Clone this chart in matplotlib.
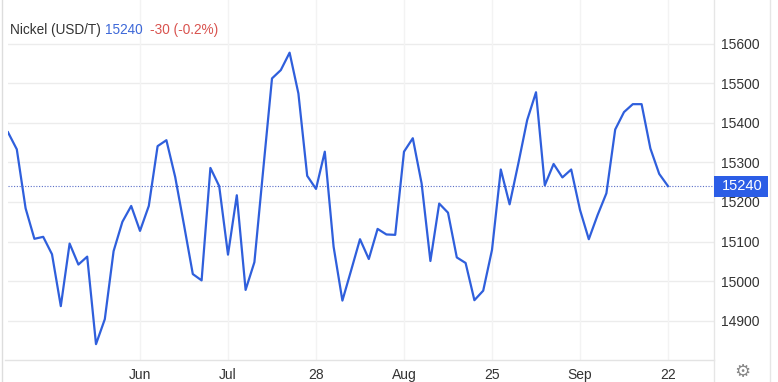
import matplotlib
matplotlib.use("Agg")
import matplotlib.pyplot as plt
from matplotlib.lines import Line2D
from matplotlib.patches import Rectangle

plt.rcParams['font.family'] = ['Liberation Sans', 'DejaVu Sans']

# ---- data ----
prices = [15376, 15333, 15184, 15107, 15112, 15068, 14937, 15095, 15042, 15062,
          14841, 14904, 15076, 15150, 15190, 15127, 15190, 15341, 15356, 15263,
          15142, 15018, 15002, 15286, 15240, 15067, 15217, 14978, 15048, 15281,
          15512, 15533, 15577, 15474, 15266, 15233, 15327, 15087, 14951, 15028,
          15106, 15056, 15132, 15118, 15117, 15327, 15361, 15247, 15051, 15196,
          15173, 15060, 15046, 14952, 14976, 15079, 15282, 15194, 15298, 15407,
          15477, 15242, 15296, 15262, 15282, 15180, 15106, 15167, 15222, 15383,
          15427, 15447, 15447, 15335, 15271, 15240]
x_tick_pos = [15, 25, 35, 45, 55, 65, 75]
x_tick_labels = ["Jun", "Jul", "28", "Aug", "25", "Sep", "22"]
y_ticks = [14900, 15000, 15100, 15200, 15300, 15400, 15500, 15600]
last_price = 15240
title_name = "Nickel (USD/T)"
title_price = "15240"
title_change = "-30 (-0.2%)"

W, H = 778, 382
fig = plt.figure(figsize=(W / 100, H / 100), dpi=100)
fig.patch.set_facecolor("white")

# axes: x from 8px to 714px, y from 0 to 360px (from top)
ax = fig.add_axes([8 / W, (H - 360) / H, (714 - 8) / W, 360 / H])
ax.set_facecolor("white")
ax.set_xlim(0, (714 - 8) / 8.8)
ax.set_ylim(14801, 15710)

for s in ax.spines.values():
    s.set_visible(False)

for yv in y_ticks:
    ax.axhline(yv, color="#ececec", lw=1.0, zorder=0)
for xv in x_tick_pos:
    ax.axvline(xv, color="#f3f3f3", lw=1.0, zorder=0)

ax.plot(range(len(prices)), prices, color="#2f5fdc", lw=1.6, zorder=3,
        solid_joinstyle="round")
ax.axhline(last_price, color="#5b6fc8", lw=0.8, ls=(0, (1, 1.5)), zorder=2)

ax.set_xticks(x_tick_pos)
ax.set_xticklabels(x_tick_labels)
ax.tick_params(axis="x", length=0, pad=6, labelsize=10, labelcolor="#333333")
ax.yaxis.tick_right()
ax.set_yticks(y_ticks)
ax.set_yticklabels([str(v) for v in y_ticks])
ax.tick_params(axis="y", length=0, pad=5, labelsize=10, labelcolor="#333333")

# bottom axis line and separators
fig.add_artist(Line2D([5 / W, 714 / W], [(H - 360) / H] * 2, color="#e3e3e3", lw=1.0))
fig.add_artist(Line2D([714 / W, 714 / W], [0, 1], color="#e6e6e6", lw=1.0))
fig.add_artist(Line2D([770 / W, 770 / W], [0, 1], color="#e6e6e6", lw=1.0))
fig.add_artist(Line2D([1.5 / W, 1.5 / W], [0, 1], color="#dddddd", lw=1.0))

# last price box
fig.add_artist(Rectangle((714 / W, (H - 196.5) / H), 54 / W, 21 / H,
                         facecolor="#2b5de6", edgecolor="none", zorder=5))
fig.text(742 / W, (H - 186) / H, str(last_price), color="white", fontsize=10.5,
         ha="center", va="center", zorder=6)

# title
t1 = fig.text(10 / W, (H - 30) / H, title_name + " ", color="#333333",
              fontsize=9.8, va="center", ha="left")
fig.canvas.draw()
r = fig.canvas.get_renderer()
bb = t1.get_window_extent(r)
t2 = fig.text(bb.x1 / W, (H - 30) / H, title_price + "  ", color="#3d68d8",
              fontsize=9.8, va="center", ha="left")
bb2 = t2.get_window_extent(r)
fig.text(bb2.x1 / W, (H - 30) / H, title_change, color="#d9534f",
         fontsize=9.8, va="center", ha="left")

# gear icon
fig.text(742 / W, (H - 372) / H, "\u2699", color="#888888", fontsize=13,
         ha="center", va="center", family=["DejaVu Sans"])

fig.savefig("out.png", dpi=100, facecolor="white")
